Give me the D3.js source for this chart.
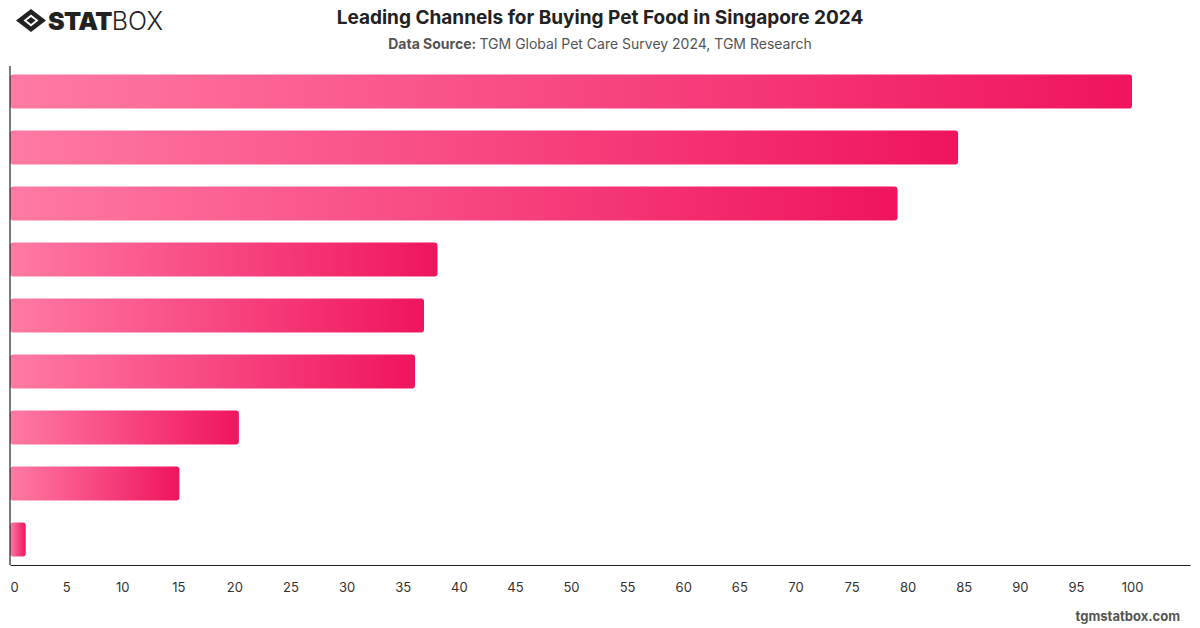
<!DOCTYPE html>
<html>
<head>
<meta charset="utf-8">
<script src="https://cdn.jsdelivr.net/npm/d3@7"></script>
<style>
  body { margin: 0; background: #fff; font-family: Inter, "Helvetica Neue", Arial, sans-serif; }
  svg { display: block; }
</style>
</head>
<body>
<div id="chart"></div>
<script>
// *Chart data (channel names are not shown in the picture)
const channels = ["Channel 1", "Channel 2", "Channel 3", "Channel 4", "Channel 5",
  "Channel 6", "Channel 7", "Channel 8", "Channel 9"];
const shares = [100, 84.5, 79.1, 38.1, 36.9, 36.1, 20.4, 15.1, 1.4];
const tickValues = d3.range(0, 101, 5);

const width = 1200, height = 628;
const plot = { left: 10, right: 1190, top: 66, bottom: 565 };

const svg = d3.select("#chart").append("svg")
  .attr("width", width)
  .attr("height", height);

// *Gradient for the bars
const grad = svg.append("defs").append("linearGradient")
  .attr("id", "barGrad")
  .attr("x1", "0%").attr("x2", "100%").attr("y1", "0%").attr("y2", "0%");
grad.append("stop").attr("offset", "0%").attr("stop-color", "#ff7ba3");
grad.append("stop").attr("offset", "100%").attr("stop-color", "#f0145f");

// *Scales
let x = d3.scaleLinear()
  .domain([0, (plot.right - plot.left) / 11.22])
  .range([plot.left, plot.right]);

let y = d3.scaleBand()
  .domain(channels)
  .range([plot.top, plot.bottom])
  .paddingInner(0.39)
  .paddingOuter(0.15);

// *Bars
svg.selectAll(".bar")
  .data(channels)
  .enter()
  .append("rect")
  .attr("class", "bar")
  .attr("x", x(0))
  .attr("y", (d) => y(d))
  .attr("width", (d, i) => x(shares[i]) - x(0))
  .attr("height", y.bandwidth())
  .attr("rx", 3)
  .attr("fill", "url(#barGrad)");

// *X axis
const xAxis = svg.append("g")
  .attr("transform", "translate(0," + plot.bottom + ")")
  .call(d3.axisBottom(x).tickValues(tickValues).tickSize(0).tickPadding(18));
xAxis.select(".domain").attr("stroke", "#222").attr("stroke-width", 1.2);
xAxis.selectAll("text")
  .attr("fill", "#333")
  .style("font-size", "13px")
  .style("font-family", "Inter, sans-serif");
xAxis.selectAll(".tick").filter((d) => d === 0).select("text").attr("dx", 4);

// *Y axis line
svg.append("line")
  .attr("x1", plot.left).attr("x2", plot.left)
  .attr("y1", plot.top).attr("y2", plot.bottom)
  .attr("stroke", "#222").attr("stroke-width", 1.2);

// *Title and subtitle
svg.append("text")
  .attr("x", 600).attr("y", 24)
  .attr("text-anchor", "middle")
  .style("font-size", "19px").style("font-weight", 700)
  .attr("fill", "#222")
  .text("Leading Channels for Buying Pet Food in Singapore 2024");

const sub = svg.append("text")
  .attr("x", 600).attr("y", 49)
  .attr("text-anchor", "middle")
  .style("font-size", "14px")
  .attr("fill", "#555");
sub.append("tspan").style("font-weight", 700).text("Data Source: ");
sub.append("tspan").text("TGM Global Pet Care Survey 2024, TGM Research");

// *Footer
svg.append("text")
  .attr("x", 1180).attr("y", 621)
  .attr("text-anchor", "end")
  .style("font-size", "13px").style("font-weight", 700)
  .attr("fill", "#555")
  .text("tgmstatbox.com");

// *Logo
const logo = svg.append("g").attr("transform", "translate(16,9)");
logo.append("path")
  .attr("d", "M15 0 L30 11.5 L15 23 L0 11.5 Z M15 5.5 L22.5 11.5 L15 17.5 L7.5 11.5 Z")
  .attr("fill", "#222").attr("fill-rule", "evenodd");
logo.append("path")
  .attr("d", "M15 8 L19.5 11.5 L15 15 L10.5 11.5 Z")
  .attr("fill", "#222");
const logoText = logo.append("text")
  .attr("x", 32).attr("y", 21)
  .style("font-size", "25px")
  .attr("fill", "#222");
logoText.append("tspan").style("font-weight", 900).style("letter-spacing", "-0.6px").text("STAT");
logoText.append("tspan").style("font-weight", 300).text("BOX");
</script>
</body>
</html>
